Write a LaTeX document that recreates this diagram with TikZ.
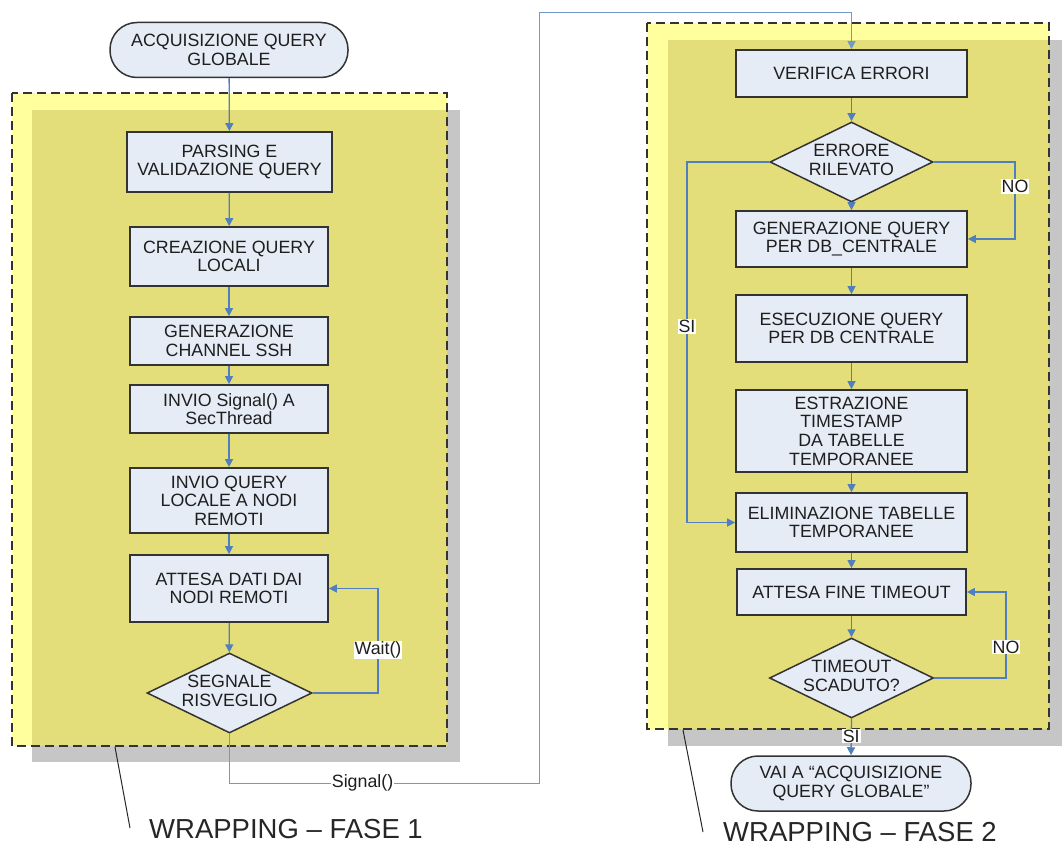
\documentclass[tikz,border=0pt]{standalone}
\usepackage{fontspec}
\setmainfont{Liberation Sans}
\usetikzlibrary{shapes.geometric,arrows.meta}
\definecolor{boxfill}{HTML}{E6ECF6}
\definecolor{boxline}{HTML}{333333}
\definecolor{flow}{HTML}{4F7FBF}
\definecolor{paleyellow}{HTML}{FFFF9E}
\definecolor{olive}{HTML}{E4DE7A}
\definecolor{shadowgray}{HTML}{C6C6C6}
\definecolor{ink}{HTML}{1E1E1E}
% two-line text of zero width, so a diamond takes its size from the minimum sizes
\newcommand{\dtext}[2]{\makebox[0pt]{\begin{tabular}{@{}c@{}}#1\\#2\end{tabular}}}
\begin{document}
\begin{tikzpicture}[x=1pt,y=-1pt,
  every node/.style={font=\fontsize{17.8}{18.6}\selectfont, text=ink},
  proc/.style={rectangle, draw=boxline, fill=boxfill, line width=1.7pt,
    inner sep=0pt, align=center, minimum width=#1},
  proc/.default=198pt,
  term/.style={rectangle, rounded corners=27pt, draw=boxline, fill=boxfill,
    line width=1.5pt, inner sep=0pt, align=center, minimum height=55pt},
  decision/.style={diamond, draw=boxline, fill=boxfill, line width=1.5pt,
    inner sep=0pt, minimum width=164pt, minimum height=80pt},
  flowline/.style={draw=flow, line width=1.3pt},
  arr/.style={flowline, -{Triangle[length=8pt,width=8pt]}},
  signalline/.style={draw=flow!80, line width=1pt},
  lbl/.style={fill=white, inner sep=1pt},
  phase/.style={font=\fontsize{27.5}{30}\selectfont, text=black!85},
  leader/.style={draw=black!85, line width=1pt},
  container/.style={draw=black!80, line width=1.5pt, dash pattern=on 9pt off 5pt}
]
\useasboundingbox (0,0) rectangle (1063,848);

% ---- phase 1 container: shadow, pale rim, olive body, dashed outline
\fill[shadowgray] (32,110) rectangle (460,762);
\fill[paleyellow] (12,93) rectangle (447,746);
\fill[olive] (32,110) rectangle (447,746);
\draw[container] (12,93) rectangle (447,746);

% ---- phase 2 container
\fill[shadowgray] (668,40) rectangle (1062,746);
\fill[paleyellow] (647,23) rectangle (1049,729);
\fill[olive] (668,40) rectangle (1049,729);
\draw[container] (647,23) rectangle (1049,729);

% ---- phase 1 nodes
\node[term, minimum width=238pt] (start) at (229,50) {ACQUISIZIONE QUERY\\GLOBALE};
\node[proc=205pt, minimum height=60pt] (parse) at (229.5,162) {PARSING E\\VALIDAZIONE QUERY};
\node[proc, minimum height=59pt] (create) at (229,256.5) {CREAZIONE QUERY\\LOCALI};
\node[proc, minimum height=48pt] (channel) at (229,341) {GENERAZIONE\\CHANNEL SSH};
\node[proc, minimum height=48pt] (sendsig) at (229,409) {INVIO Signal() A\\SecThread};
\node[proc, minimum height=65pt] (sendq) at (229,500.5) {INVIO QUERY\\LOCALE A NODI\\REMOTI};
\node[proc, minimum height=67pt] (waitdata) at (229,588.5) {ATTESA DATI DAI\\NODI REMOTI};
\node[decision, minimum width=165pt] (wake) at (229.5,693) {\dtext{SEGNALE}{RISVEGLIO}};

% ---- phase 2 nodes
\node[proc=231pt, minimum height=47pt] (check) at (851.5,73.5) {VERIFICA ERRORI};
\node[decision, minimum width=163pt] (err) at (851.5,162) {\dtext{ERRORE}{RILEVATO}};
\node[proc=231pt, minimum height=56pt] (genq) at (851.5,239) {GENERAZIONE QUERY\\PER DB\_CENTRALE};
\node[proc=231pt, minimum height=67pt] (exec) at (851.5,328.5) {ESECUZIONE QUERY\\PER DB CENTRALE};
\node[proc=231pt, minimum height=82pt] (extract) at (851.5,431) {ESTRAZIONE\\TIMESTAMP\\DA TABELLE\\TEMPORANEE};
\node[proc=231pt, minimum height=59pt] (drop) at (851.5,522.5) {ELIMINAZIONE TABELLE\\TEMPORANEE};
\node[proc=229pt, minimum height=46pt] (timeout) at (851.5,592) {ATTESA FINE TIMEOUT};
\node[decision] (expired) at (851.5,678) {\dtext{TIMEOUT}{SCADUTO?}};
\node[term, minimum width=240pt] (goto) at (851,783.5) {VAI A “ACQUISIZIONE\\QUERY GLOBALE”};

% ---- phase 1 connectors
\draw[arr] (start) -- (parse);
\draw[arr] (parse) -- (create);
\draw[arr] (create) -- (channel);
\draw[arr] (channel) -- (sendsig);
\draw[arr] (sendsig) -- (sendq);
\draw[arr] (sendq) -- (waitdata);
\draw[arr] (waitdata) -- (wake);
\coordinate (waitturn) at (378,693);
\draw[arr] (wake.east) -- (waitturn)
  -- node[lbl, pos=0.41] {Wait()} (waitturn |- waitdata.east) -- (waitdata.east);

% ---- hand-over from phase 1 to phase 2
\coordinate (sigA) at (229.5,783);
\coordinate (sigB) at (539,783);
\coordinate (sigC) at (539,13);
\coordinate (sigD) at (851.5,13);
\draw[signalline] (wake.south) -- (sigA) -- node[lbl, pos=0.43] {Signal()} (sigB)
  -- (sigC) -- (sigD);
\draw[signalline, -{Triangle[length=8pt,width=8pt]}] (sigD) -- (check.north);

% ---- phase 2 connectors
\draw[arr] (check) -- (err);
\draw[arr] (err) -- (genq);
\draw[arr] (genq) -- (exec);
\draw[arr] (exec) -- (extract);
\draw[arr] (extract) -- (drop);
\draw[arr] (drop) -- (timeout);
\draw[arr] (timeout) -- (expired);
\coordinate (noturn) at (1015,162);
\draw[arr] (err.east) -- (noturn)
  -- node[lbl, pos=0.32] {NO} (noturn |- genq.east) -- (genq.east);
\coordinate (siturn) at (687,162);
\draw[arr] (err.west) -- (siturn)
  -- node[lbl, pos=0.457] {SI} (siturn |- drop.west) -- (drop.west);
\coordinate (retry) at (1006,678);
\draw[arr] (expired.east) -- (retry)
  -- node[lbl, pos=0.36] {NO} (retry |- timeout.east) -- (timeout.east);
\draw[arr] (expired.south) -- node[lbl, pos=0.47] {SI} (goto.north);

% ---- phase captions with their leader lines
\node[phase] (cap1) at (286,829) {WRAPPING – FASE 1};
\node[phase] (cap2) at (860,832) {WRAPPING – FASE 2};
\coordinate (tick1) at (115,747);
\coordinate (tick2) at (683,730);
\coordinate (foot1) at (130,828);
\coordinate (foot2) at (703,832);
\draw[leader] (tick1) -- (foot1);
\draw[leader] (tick2) -- (foot2);
\end{tikzpicture}
\end{document}
